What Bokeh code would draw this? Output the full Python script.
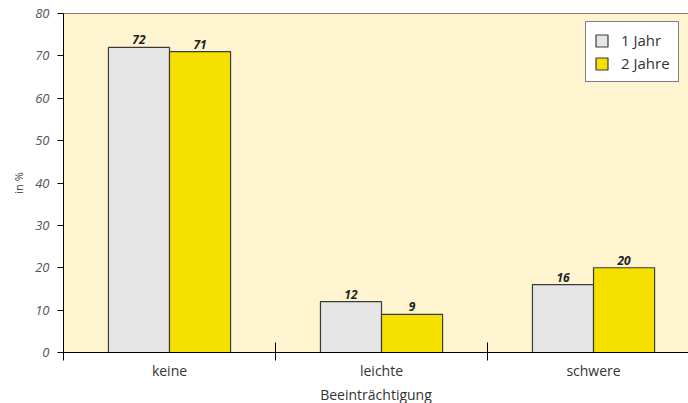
from bokeh.plotting import figure
from bokeh.models import ColumnDataSource, FixedTicker, Span, Legend, LegendItem, Title
from bokeh.core.properties import value
from bokeh.embed import file_html
from bokeh.resources import INLINE

categories = ["keine", "leichte", "schwere"]
jahr1 = [72, 12, 16]
jahr2 = [71, 9, 20]
series_names = ["1 Jahr", "2 Jahre"]
y_ticks = [0, 10, 20, 30, 40, 50, 60, 70, 80]
x_title = "Beeinträchtigung"
y_title = "in %"

bw = 0.288
centers = [i + 0.5 for i in range(len(categories))]
src1 = ColumnDataSource(dict(x=[c - bw / 2 for c in centers], y=jahr1, t=[str(v) for v in jahr1]))
src2 = ColumnDataSource(dict(x=[c + bw / 2 for c in centers], y=jahr2, t=[str(v) for v in jahr2]))

FONT = "Open Sans"
p = figure(width=688, height=403, x_range=(0, 2.948), y_range=(0, 80),
           output_backend="svg", toolbar_location=None,
           min_border_left=63, min_border_right=0, min_border_top=13, min_border_bottom=0)
p.background_fill_color = "#FEF5D0"
p.outline_line_color = None
p.grid.grid_line_color = None

r1 = p.vbar(x="x", top="y", width=bw, source=src1, fill_color="#E6E6E6", line_color="#3a3a3a", line_width=1.2)
r2 = p.vbar(x="x", top="y", width=bw, source=src2, fill_color="#F5E000", line_color="#3a3a3a", line_width=1.2)

for s in (src1, src2):
    p.text(x="x", y="y", text="t", source=s, text_align="center", text_baseline="bottom",
           y_offset=-3, text_font=value(FONT), text_font_size="12px",
           text_font_style="bold italic", text_color="#222222")

p.add_layout(Span(location=80, dimension="width", line_color="black", line_width=1))

# x axis
xa = p.xaxis[0]
xa.ticker = FixedTicker(ticks=centers, minor_ticks=[0, 1, 2])
xa.major_label_overrides = {c: n for c, n in zip(centers, categories)}
xa.major_tick_line_color = None
xa.major_tick_out = 0
xa.major_tick_in = 0
xa.minor_tick_in = 10
xa.minor_tick_out = 8
xa.minor_tick_line_color = "black"
xa.axis_line_color = "black"
xa.major_label_text_font = FONT
xa.major_label_text_font_size = "14px"
xa.major_label_text_color = "#333333"
xa.major_label_standoff = 0

p.add_layout(Title(text=x_title, align="center", text_font=FONT, text_font_size="14px",
                   text_font_style="normal", text_color="#333333", standoff=0, offset=0), "below")

# y axis
ya = p.yaxis[0]
ya.ticker = FixedTicker(ticks=y_ticks, minor_ticks=[])
ya.major_tick_in = 0
ya.major_tick_out = 6
ya.major_tick_line_color = "black"
ya.axis_line_color = "black"
ya.major_label_text_font = FONT
ya.major_label_text_font_size = "13px"
ya.major_label_text_font_style = "italic"
ya.major_label_text_color = "#555555"
ya.major_label_standoff = 8
ya.axis_label = y_title
ya.axis_label_text_font = FONT
ya.axis_label_text_font_size = "11px"
ya.axis_label_text_font_style = "normal"
ya.axis_label_text_color = "#333333"
ya.axis_label_standoff = 6

legend = Legend(items=[LegendItem(label=series_names[0], renderers=[r1]),
                       LegendItem(label=series_names[1], renderers=[r2])],
                location=(522, 270))
legend.border_line_color = "black"
legend.background_fill_color = "white"
legend.background_fill_alpha = 1
legend.label_text_font = FONT
legend.label_text_font_size = "15px"
legend.label_text_color = "#333333"
legend.label_height = 18
legend.glyph_width = 15
legend.glyph_height = 15
legend.spacing = 3
legend.padding = 8
legend.margin = 0
legend.label_standoff = 12
p.add_layout(legend)

open("out.html", "w").write(file_html(p, INLINE))
